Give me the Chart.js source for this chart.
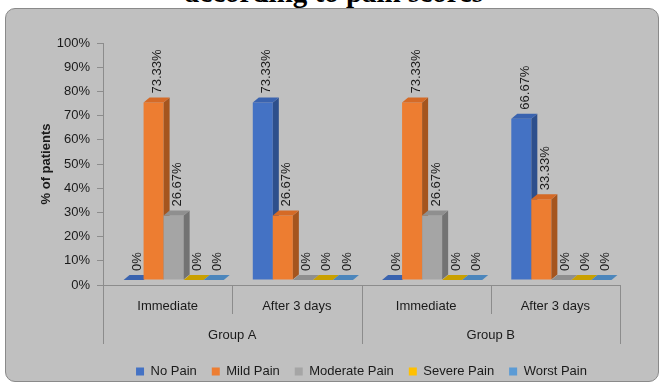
<!DOCTYPE html>
<html>
<head>
<meta charset="utf-8">
<script src="https://cdn.jsdelivr.net/npm/chart.js@4/dist/chart.umd.min.js"></script>
<style>
  html, body { margin: 0; padding: 0; background: #ffffff; width: 664px; height: 385px; overflow: hidden; }
  #heading { position: absolute; left: 2px; width: 664px; top: -24px; text-align: center;
             font: bold 29px "Liberation Serif", "Times New Roman", serif; color: #000; white-space: nowrap; }
  #panel { position: absolute; left: 5px; top: 8px; width: 654px; height: 374px; box-sizing: border-box;
           background: #c0c0c0; border: 1px solid #8a8a8a; border-radius: 10px; }
  #wrap { position: absolute; left: 0; top: 0; width: 664px; height: 385px; }
</style>
</head>
<body>
<div id="heading">according to pain scores</div>
<div id="panel"></div>
<div id="wrap"><canvas id="chart" width="664" height="385"></canvas></div>
<script>
// Categories: time points, grouped two per study group
const categories = ['Immediate', 'After 3 days', 'Immediate', 'After 3 days'];
const groups = ['Group A', 'Group B'];
const categoriesPerGroup = 2;

// Percentage of patients per pain level
const seriesNames = ['No Pain', 'Mild Pain', 'Moderate Pain', 'Severe Pain', 'Worst Pain'];
const noPain       = [0, 73.33, 0, 66.67];
const mildPain     = [73.33, 26.67, 73.33, 33.33];
const moderatePain = [26.67, 0, 26.67, 0];
const severePain   = [0, 0, 0, 0];
const worstPain    = [0, 0, 0, 0];

// Y axis: 0% .. 100% in steps of 10
const yMin = 0, yMax = 100, yStep = 10;

// Face colours for each series: front, top, side
const palette = [
  { front: '#4472C4', top: '#3A63AF', side: '#2D4F8C' },
  { front: '#ED7D31', top: '#D56A26', side: '#A5551E' },
  { front: '#A5A5A5', top: '#8F8F8F', side: '#737373' },
  { front: '#FFC000', top: '#C9A000', side: '#A88600' },
  { front: '#5B9BD5', top: '#4C86BC', side: '#3B6D9C' }
];

const seriesValues = [noPain, mildPain, moderatePain, severePain, worstPain];

const DEPTH_X = 6, DEPTH_Y = 5;     // extrusion of the 3D bars
const SHIFT_X = 6, SHIFT_Y = -5;    // bars sit on a floor in front of the back wall
const AXIS_COLOR = '#8c8c8c';
const TEXT_COLOR = '#1a1a1a';
const FONT = '"Liberation Sans", Arial, sans-serif';

const fmt = v => (v === 0 ? '0%' : v.toFixed(2) + '%');

// Draws the bars left to right as 3D blocks (front via the bar element, then top and side faces)
const bars3d = {
  id: 'bars3d',
  beforeDatasetsDraw() {
    return false; // bars are painted below, in left-to-right order
  },
  afterDraw(chart) {
    const ctx = chart.ctx;
    ctx.save();
    ctx.translate(SHIFT_X, SHIFT_Y);
    chart.data.datasets.forEach((ds, i) => {
      const col = palette[i];
      chart.getDatasetMeta(i).data.forEach(el => {
        el.draw(ctx);
        const p = el.getProps(['x', 'y', 'base', 'width'], true);
        const l = p.x - p.width / 2, r = p.x + p.width / 2;
        const top = Math.min(p.y, p.base), bot = Math.max(p.y, p.base);
        ctx.fillStyle = col.side;
        ctx.beginPath();
        ctx.moveTo(r, top); ctx.lineTo(r + DEPTH_X, top - DEPTH_Y);
        ctx.lineTo(r + DEPTH_X, bot - DEPTH_Y); ctx.lineTo(r, bot);
        ctx.closePath(); ctx.fill();
        ctx.fillStyle = col.top;
        ctx.beginPath();
        ctx.moveTo(l, top); ctx.lineTo(r, top);
        ctx.lineTo(r + DEPTH_X, top - DEPTH_Y); ctx.lineTo(l + DEPTH_X, top - DEPTH_Y);
        ctx.closePath(); ctx.fill();
      });
    });
    // value labels, rotated, above each block
    ctx.font = '13px ' + FONT;
    ctx.fillStyle = TEXT_COLOR;
    ctx.textAlign = 'left';
    ctx.textBaseline = 'middle';
    chart.data.datasets.forEach((ds, i) => {
      chart.getDatasetMeta(i).data.forEach((el, j) => {
        const p = el.getProps(['x', 'y', 'base'], true);
        const top = Math.min(p.y, p.base);
        ctx.save();
        ctx.translate(p.x + 4, top - DEPTH_Y - 4);
        ctx.rotate(-Math.PI / 2);
        ctx.fillText(fmt(ds.data[j]), 0, 0);
        ctx.restore();
      });
    });
    ctx.restore();
  }
};

// Category separators and the outer group labels below the x axis
const groupedAxis = {
  id: 'groupedAxis',
  afterDraw(chart) {
    const ctx = chart.ctx, xs = chart.scales.x, area = chart.chartArea;
    const n = categories.length;
    const edges = [area.left];
    for (let i = 0; i < n - 1; i++) {
      edges.push((xs.getPixelForValue(i) + xs.getPixelForValue(i + 1)) / 2);
    }
    edges.push(area.right);
    ctx.save();
    ctx.strokeStyle = AXIS_COLOR;
    ctx.lineWidth = 1;
    edges.forEach((x, k) => {
      const isGroupEdge = k % categoriesPerGroup === 0;
      const xx = Math.round(x) + 0.5;
      ctx.beginPath();
      ctx.moveTo(xx, area.bottom);
      ctx.lineTo(xx, area.bottom + (isGroupEdge ? 59 : 29));
      ctx.stroke();
    });
    ctx.font = '13px ' + FONT;
    ctx.fillStyle = TEXT_COLOR;
    ctx.textAlign = 'center';
    ctx.textBaseline = 'middle';
    groups.forEach((g, gi) => {
      const a = edges[gi * categoriesPerGroup], b = edges[(gi + 1) * categoriesPerGroup];
      ctx.fillText(g, (a + b) / 2, area.bottom + 50);
    });
    ctx.restore();
  }
};

const datasets = seriesNames.map((name, i) => ({
  label: name,
  data: seriesValues[i],
  backgroundColor: palette[i].front,
  borderWidth: 0,
  categoryPercentage: 0.775,
  barPercentage: 1.0
}));

new Chart(document.getElementById('chart'), {
  type: 'bar',
  data: { labels: categories, datasets },
  options: {
    responsive: false,
    animation: false,
    events: [],
    layout: { padding: { left: 0, right: 44, top: 43, bottom: -3 } },
    plugins: {
      tooltip: { enabled: false },
      title: { display: false },
      legend: {
        position: 'bottom',
        fullSize: false,
        labels: {
          boxWidth: 8, boxHeight: 8, padding: 15,
          color: TEXT_COLOR,
          font: { family: FONT, size: 13 }
        }
      }
    },
    scales: {
      x: {
        grid: { display: false, drawTicks: false },
        border: { display: true, color: AXIS_COLOR },
        ticks: {
          color: TEXT_COLOR, padding: 14, maxRotation: 0, autoSkip: false,
          font: { family: FONT, size: 13 }
        },
        afterFit(scale) { scale.height = 65; }
      },
      y: {
        min: yMin, max: yMax,
        grid: { display: true, drawOnChartArea: false, drawTicks: true, tickLength: 6, color: AXIS_COLOR },
        border: { display: true, color: AXIS_COLOR },
        ticks: {
          stepSize: yStep, padding: 7, color: TEXT_COLOR,
          font: { family: FONT, size: 13 },
          callback: v => v + '%'
        },
        title: {
          display: true, text: '% of patients', color: TEXT_COLOR,
          font: { family: FONT, size: 13, weight: 'bold' },
          padding: { top: 39, bottom: 0 }
        },
        afterFit(scale) { scale.width = 103; }
      }
    }
  },
  plugins: [bars3d, groupedAxis]
});
</script>
</body>
</html>
